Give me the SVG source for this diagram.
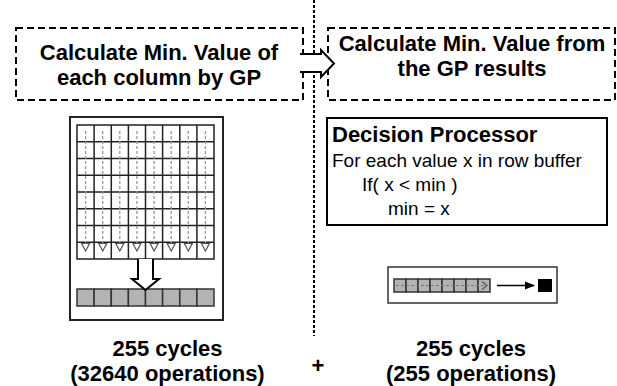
<svg xmlns="http://www.w3.org/2000/svg" width="617" height="386" viewBox="0 0 617 386">
  <style>
    .bold { font-family: "Liberation Sans", Arial, sans-serif; font-weight: bold; font-size: 22px; fill: #000; }
    .reg { font-family: "Liberation Sans", Arial, sans-serif; font-size: 19px; fill: #000; }
    .dashbox { fill: #fff; stroke: #000; stroke-width: 2; stroke-dasharray: 7 4; }
    .gcell { fill: #b3b3b3; stroke: #333; stroke-width: 1.5; }
    .flow { stroke: #999; stroke-width: 1.3; stroke-dasharray: 3 2; fill: none; }
    .tip { fill: #fff; stroke: #555; stroke-width: 1.2; }
    .frame { fill: #fff; stroke: #222; stroke-width: 2; }
  </style>
  <defs>
    <marker id="solidHead" markerWidth="10" markerHeight="10" refX="9" refY="5" orient="auto" markerUnits="userSpaceOnUse">
      <path d="M0,1 L10,5 L0,9 Z" fill="#000"/>
    </marker>
  </defs>

  <rect width="617" height="386" fill="#fff"/>

  <!-- dotted divider between the two stages -->
  <g id="connectors">
    <line x1="314" y1="0" x2="314" y2="336" stroke="#000" stroke-width="2" stroke-dasharray="3 2"/>
  </g>

  <g id="node-gp-step">
    <rect class="dashbox" x="16" y="28" width="287" height="72"/>
    <text class="bold" x="159" y="60" text-anchor="middle">Calculate Min. Value of</text>
    <text class="bold" x="159" y="85" text-anchor="middle">each column by GP</text>
  </g>

  <g id="node-final-step">
    <rect class="dashbox" x="328" y="28" width="287" height="72"/>
    <text class="bold" x="472" y="51" text-anchor="middle">Calculate Min. Value from</text>
    <text class="bold" x="472" y="76" text-anchor="middle">the GP results</text>
  </g>

  <!-- hollow arrow between stages -->
  <g id="stage-arrow">
    <path d="M300,54 L321,54 L321,50 L334,63.5 L321,77 L321,72 L300,72" fill="#fff" stroke="#000" stroke-width="2" stroke-linejoin="miter"/>
  </g>

  <!-- GP array: 8x8 cells with column-wise comparisons -->
  <g id="node-gp-array">
    <rect class="frame" x="70" y="117" width="153" height="203"/>
    <g id="grid">
      <rect x="77" y="125" width="137" height="134" fill="#fff" stroke="#222" stroke-width="1.5"/>
      <path d="M94.1,125V259 M111.3,125V259 M128.4,125V259 M145.5,125V259 M162.6,125V259 M179.8,125V259 M196.9,125V259" stroke="#222" stroke-width="1.5"/>
      <path d="M77,141.75H214 M77,158.5H214 M77,175.25H214 M77,192H214 M77,208.75H214 M77,225.5H214 M77,242.25H214" stroke="#222" stroke-width="1.5"/>
      <path class="flow" d="M85.6,131V246 M102.7,131V246 M119.8,131V246 M136.9,131V246 M154.1,131V246 M171.2,131V246 M188.3,131V246 M205.4,131V246"/>
      <path class="tip" d="M81.6,243.5 L85.6,251 L89.6,243.5 Z M98.7,243.5 L102.7,251 L106.7,243.5 Z M115.8,243.5 L119.8,251 L123.8,243.5 Z M132.9,243.5 L136.9,251 L140.9,243.5 Z M150.1,243.5 L154.1,251 L158.1,243.5 Z M167.2,243.5 L171.2,251 L175.2,243.5 Z M184.3,243.5 L188.3,251 L192.3,243.5 Z M201.4,243.5 L205.4,251 L209.4,243.5 Z"/>
    </g>
    <g id="result-row">
      <rect class="gcell" x="77" y="289" width="17.1" height="17"/>
      <rect class="gcell" x="94.1" y="289" width="17.1" height="17"/>
      <rect class="gcell" x="111.3" y="289" width="17.1" height="17"/>
      <rect class="gcell" x="128.4" y="289" width="17.1" height="17"/>
      <rect class="gcell" x="145.5" y="289" width="17.1" height="17"/>
      <rect class="gcell" x="162.6" y="289" width="17.1" height="17"/>
      <rect class="gcell" x="179.8" y="289" width="17.1" height="17"/>
      <rect class="gcell" x="196.9" y="289" width="17.1" height="17"/>
    </g>
    <path d="M138,259 L138,279 L132,279 L145.5,290 L159,279 L153,279 L153,259" fill="#fff" stroke="#000" stroke-width="2"/>
  </g>

  <g id="node-decision">
    <rect x="327" y="118" width="280" height="107" fill="#fff" stroke="#000" stroke-width="2"/>
    <text class="bold" x="332" y="142">Decision Processor</text>
    <text class="reg" x="332" y="167">For each value x in row buffer</text>
    <text class="reg" x="362" y="191">If( x &lt; min )</text>
    <text class="reg" x="388" y="215">min = x</text>
  </g>

  <!-- row buffer scanned into a single minimum -->
  <g id="node-row-buffer">
    <rect x="388" y="267" width="169" height="36" fill="#fff" stroke="#333" stroke-width="1.5"/>
    <g>
      <rect class="gcell" x="394" y="279" width="12" height="13" stroke-width="1.2"/>
      <rect class="gcell" x="406" y="279" width="12" height="13" stroke-width="1.2"/>
      <rect class="gcell" x="418" y="279" width="12" height="13" stroke-width="1.2"/>
      <rect class="gcell" x="430" y="279" width="12" height="13" stroke-width="1.2"/>
      <rect class="gcell" x="442" y="279" width="12" height="13" stroke-width="1.2"/>
      <rect class="gcell" x="454" y="279" width="12" height="13" stroke-width="1.2"/>
      <rect class="gcell" x="466" y="279" width="12" height="13" stroke-width="1.2"/>
      <rect class="gcell" x="478" y="279" width="12" height="13" stroke-width="1.2"/>
    </g>
    <path d="M396,285.5 H487" stroke="#777" stroke-width="1.2" stroke-dasharray="3 2" fill="none"/>
    <path d="M482,281.5 L487,285.5 L482,289.5" stroke="#555" stroke-width="1.2" fill="none"/>
    <line x1="497" y1="285.5" x2="534" y2="285.5" stroke="#000" stroke-width="1.5" marker-end="url(#solidHead)"/>
    <rect x="538" y="279" width="14" height="13" fill="#000"/>
  </g>

  <g id="node-left-cost">
    <text class="bold" x="167.5" y="356" text-anchor="middle">255 cycles</text>
    <text class="bold" x="167.5" y="381" text-anchor="middle">(32640 operations)</text>
  </g>
  <text class="bold" x="318" y="373" text-anchor="middle">+</text>
  <g id="node-right-cost">
    <text class="bold" x="471" y="356" text-anchor="middle">255 cycles</text>
    <text class="bold" x="471" y="381" text-anchor="middle">(255 operations)</text>
  </g>
</svg>
